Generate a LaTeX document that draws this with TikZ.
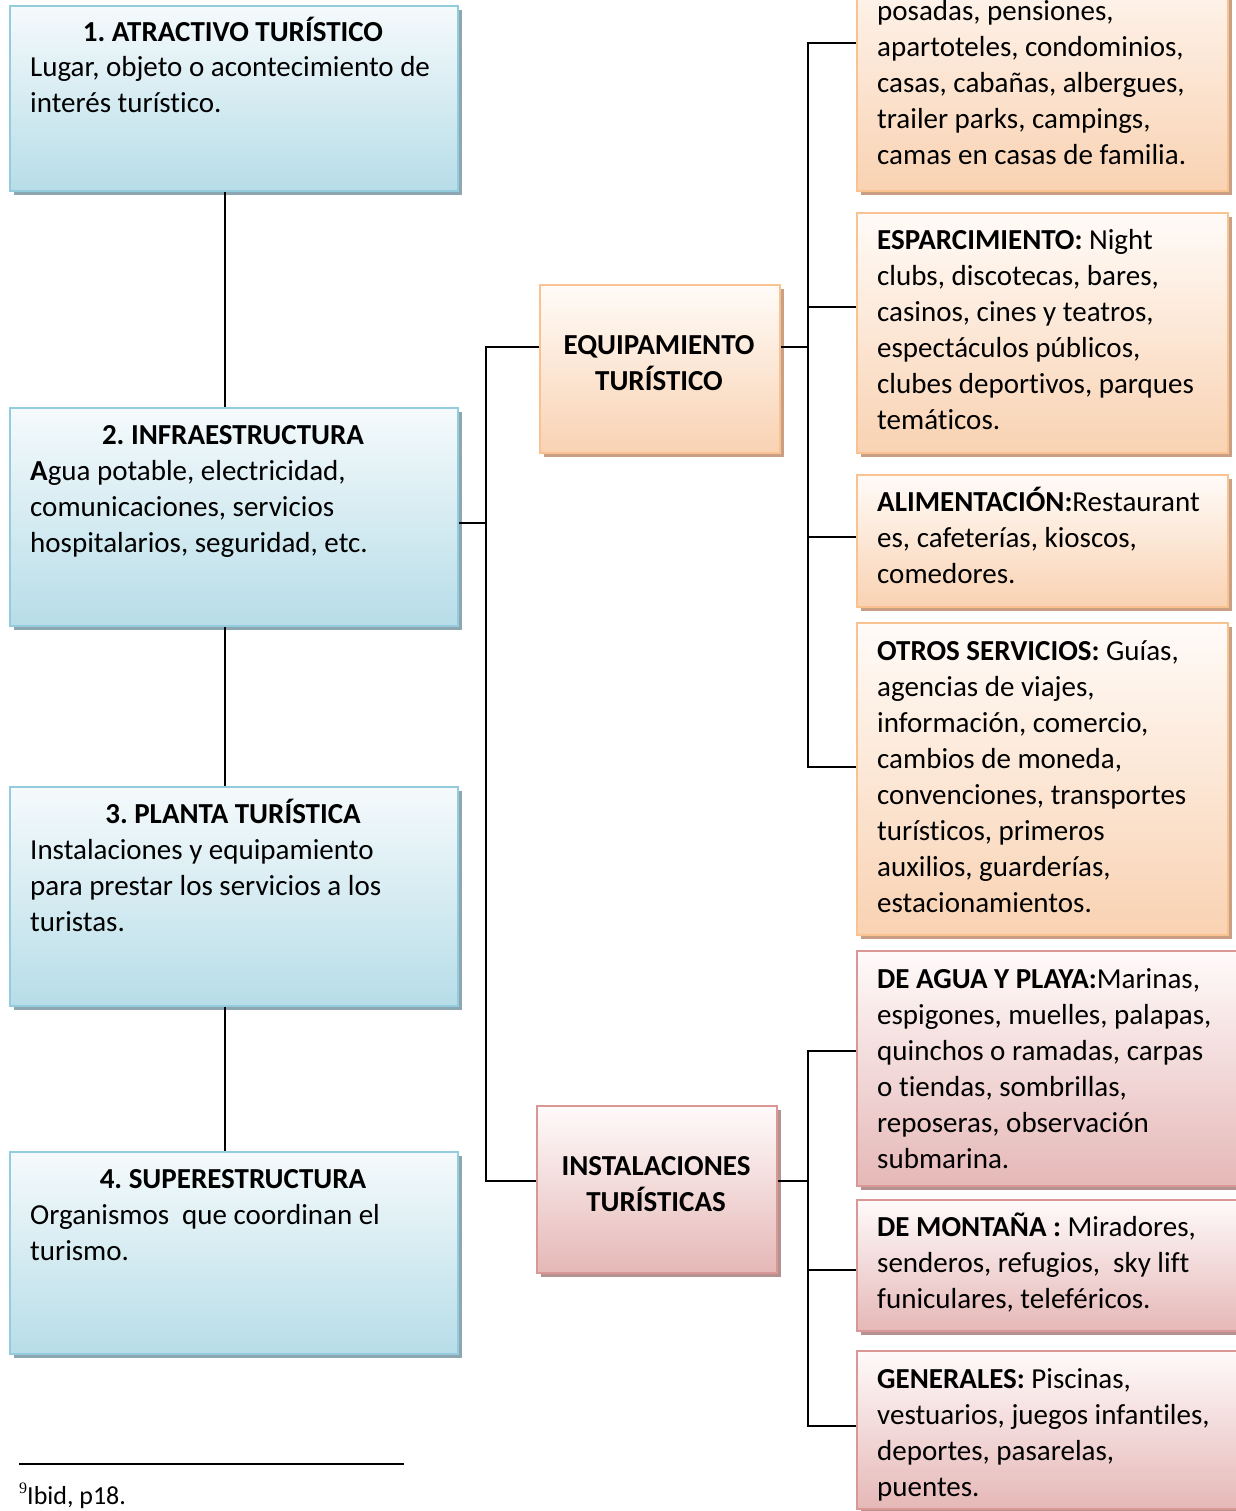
\documentclass[tikz,border=0pt]{standalone}
\usepackage{fontspec}
\setmainfont{Carlito}[Ligatures={NoCommon}]
\newfontfamily\fnserif{Liberation Serif}
\usetikzlibrary{shadows}
\frenchspacing
\definecolor{bluebd}{HTML}{93CDDD}
\definecolor{bluetop}{HTML}{F5FAFC}
\definecolor{bluebot}{HTML}{B7DDE8}
\definecolor{blueshd}{HTML}{8CA7B1}
\definecolor{orbd}{HTML}{FAC191}
\definecolor{ortop}{HTML}{FFFBF8}
\definecolor{orbot}{HTML}{F9D2B2}
\definecolor{orshd}{HTML}{C9A084}
\definecolor{pkbd}{HTML}{D99795}
\definecolor{pktop}{HTML}{FFFAFA}
\definecolor{pkbot}{HTML}{E5B8B7}
\definecolor{pkshd}{HTML}{B49292}
\newcommand\lefttext[1]{\begin{tabular}[t]{@{}l@{}}#1\end{tabular}}
\newcommand\centertext[1]{\begin{tabular}[t]{@{}c@{}}#1\end{tabular}}
\tikzset{
  basebox/.style={line width=2pt, inner sep=0pt, anchor=north west},
  bluebox/.style={basebox, draw=bluebd, top color=bluetop, bottom color=bluebot,
    general shadow={fill=blueshd, shadow xshift=4pt, shadow yshift=-4pt}},
  orbox/.style={basebox, draw=orbd, top color=ortop, bottom color=orbot,
    general shadow={fill=orshd, shadow xshift=4pt, shadow yshift=-4pt}},
  pkbox/.style={basebox, draw=pkbd, top color=pktop, bottom color=pkbot,
    general shadow={fill=pkshd, shadow xshift=4pt, shadow yshift=-4pt}},
  txt/.style={inner sep=0pt, font=\fontsize{29}{36}\selectfont},
  ltxt/.style={txt, anchor=base west},
  ctxt/.style={txt, anchor=base},
  conn/.style={line width=2.2pt, black},
}
\newcommand\mybox[6]{%
  \node[#2, minimum width={(#5-#3)*1pt}, minimum height={(#6-#4)*1pt}] (#1) at (#3,-#4) {};}
\begin{document}
\begin{tikzpicture}[x=1pt,y=1pt]
\useasboundingbox (0,0) rectangle (1235,-1511);
\fill[white] (0,0) rectangle (1235,-1511);

% left column
\mybox{b1}{bluebox}{9}{5}{457}{190}
\mybox{b2}{bluebox}{9}{407}{457}{625}
\mybox{b3}{bluebox}{9}{786}{457}{1005}
\mybox{b4}{bluebox}{9}{1151}{457}{1353}
% middle
\mybox{eq}{orbox}{539}{284}{779}{452}
\mybox{ins}{pkbox}{536}{1105}{776}{1272}
% right orange
\mybox{ba}{orbox}{856}{-60}{1227}{190}
\mybox{bb}{orbox}{856}{212}{1227}{452}
\mybox{bc}{orbox}{856}{474}{1227}{606}
\mybox{bd}{orbox}{856}{622}{1227}{934}
% right pink
\mybox{be}{pkbox}{856}{950}{1250}{1185}
\mybox{bf}{pkbox}{856}{1199}{1250}{1330}
\mybox{bg}{pkbox}{856}{1350}{1250}{1508}

% texts left
\node[ctxt] (t1) at (233,-42) {\textbf{1. ATRACTIVO TURÍSTICO}};
\node[ltxt] (d1) at (30,-77) {\lefttext{Lugar, objeto o acontecimiento de\\interés turístico.}};
\node[ctxt] (t2) at (233,-444) {\textbf{2. INFRAESTRUCTURA}};
\node[ltxt] (d2) at (30,-480) {\lefttext{\textbf{A}gua potable, electricidad,\\comunicaciones, servicios\\hospitalarios, seguridad, etc.}};
\node[ctxt] (t3) at (233,-823) {\textbf{3. PLANTA TURÍSTICA}};
\node[ltxt] (d3) at (30,-859) {\lefttext{Instalaciones y equipamiento\\para prestar los servicios a los\\turistas.}};
\node[ctxt] (t4) at (233,-1188) {\textbf{4. SUPERESTRUCTURA}};
\node[ltxt] (d4) at (30,-1224) {\lefttext{Organismos\ \ que coordinan el\\turismo.}};

% texts middle
\node[ctxt] (teq) at (659,-354) {\centertext{\textbf{EQUIPAMIENTO}\\\textbf{TURÍSTICO}}};
\node[ctxt] (tin) at (656,-1175) {\centertext{\textbf{INSTALACIONES}\\\textbf{TURÍSTICAS}}};

% texts right
\node[ltxt] (ta) at (877,-21) {\lefttext{posadas, pensiones,\\apartoteles, condominios,\\casas, cabañas, albergues,\\trailer parks, campings,\\camas en casas de familia.}};
\node[ltxt] (tb) at (877,-250) {\lefttext{\textbf{ESPARCIMIENTO:} Night\\clubs, discotecas, bares,\\casinos, cines y teatros,\\espectáculos públicos,\\clubes deportivos, parques\\temáticos.}};
\node[ltxt] (tc) at (877,-511) {\lefttext{\textbf{ALIMENTACIÓN:}Restaurant\\es, cafeterías, kioscos,\\comedores.}};
\node[ltxt] (td) at (877,-660) {\lefttext{\textbf{OTROS SERVICIOS:} Guías,\\agencias de viajes,\\información, comercio,\\cambios de moneda,\\convenciones, transportes\\turísticos, primeros\\auxilios, guarderías,\\estacionamientos.}};
\node[ltxt] (te) at (877,-988) {\lefttext{\textbf{DE AGUA Y PLAYA:}Marinas,\\espigones, muelles, palapas,\\quinchos o ramadas, carpas\\o tiendas, sombrillas,\\reposeras, observación\\submarina.}};
\node[ltxt] (tf) at (877,-1236) {\lefttext{\textbf{DE MONTAÑA :} Miradores,\\senderos, refugios,\ \ sky lift\\funiculares, teleféricos.}};
\node[ltxt] (tg) at (877,-1388) {\lefttext{\textbf{GENERALES:} Piscinas,\\vestuarios, juegos infantiles,\\deportes, pasarelas,\\puentes.}};

% connector coordinates
\coordinate (jb2) at (486,-523);
\coordinate (jeq) at (486,-347);
\coordinate (jin) at (486,-1181);
\coordinate (keq) at (808,-347);
\coordinate (ka) at (808,-43);
\coordinate (kb) at (808,-307);
\coordinate (kc) at (808,-537);
\coordinate (kd) at (808,-767);
\coordinate (kin) at (808,-1181);
\coordinate (ke) at (808,-1051);
\coordinate (kf) at (808,-1270);
\coordinate (kg) at (808,-1426);

% left vertical connectors
\draw[conn] ([xshift=-9pt]b1.south) -- ([xshift=-9pt]b2.north);
\draw[conn] ([xshift=-9pt]b2.south) -- ([xshift=-9pt]b3.north);
\draw[conn] ([xshift=-9pt]b3.south) -- ([xshift=-9pt]b4.north);
% left trunk
\draw[conn] (b2.east |- jb2) -- (jb2);
\draw[conn] (eq.west |- jeq) -- (jeq) -- (jin) -- (ins.west |- jin);
% equipamiento branches
\draw[conn] (eq.east |- keq) -- (keq);
\draw[conn] (ka -| ba.west) -- (ka) -- (kd) -- (kd -| bd.west);
\draw[conn] (kb) -- (kb -| bb.west);
\draw[conn] (kc) -- (kc -| bc.west);
% instalaciones branches
\draw[conn] (ins.east |- kin) -- (kin);
\draw[conn] (ke -| be.west) -- (ke) -- (kg) -- (kg -| bg.west);
\draw[conn] (kf) -- (kf -| bf.west);

% footnote
\coordinate (fn1) at (19,-1464);
\coordinate (fn2) at (404,-1464);
\draw[line width=1.6pt] (fn1) -- (fn2);
\node[inner sep=0pt, anchor=base west, font=\fontsize{26}{30}\selectfont] (fnt) at (19,-1504)
  {\raisebox{11pt}{\fnserif\fontsize{16}{18}\selectfont 9}Ibid, p18.};
\end{tikzpicture}
\end{document}
